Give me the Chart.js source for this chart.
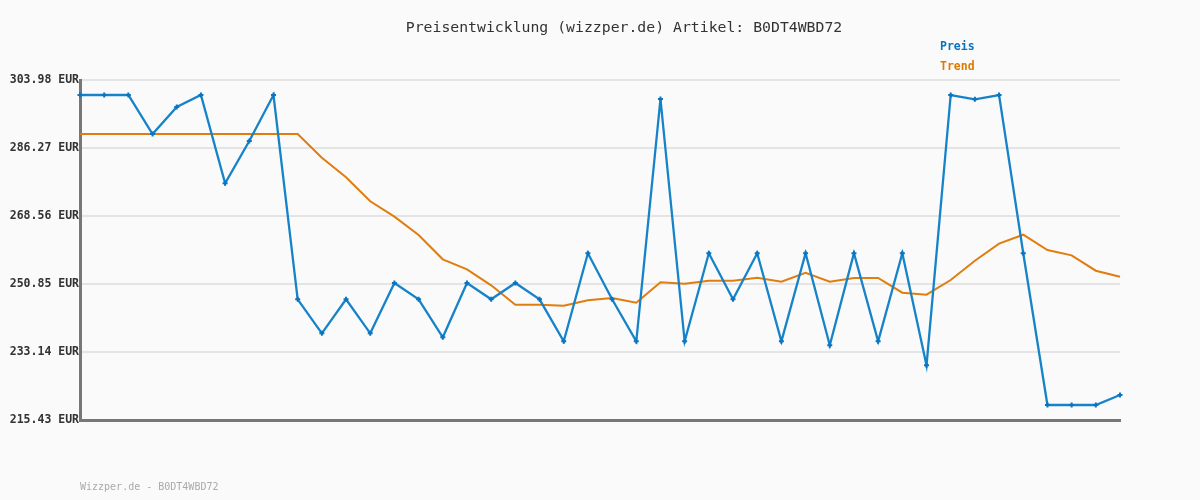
<!DOCTYPE html>
<html>
<head>
<meta charset="utf-8">
<script src="https://cdn.jsdelivr.net/npm/chart.js@4.4.1/dist/chart.umd.min.js"></script>
<style>
  html, body { margin: 0; padding: 0; background: #fafafa; }
  #wrap { width: 1200px; height: 500px; position: relative; }
</style>
</head>
<body>
<div id="wrap"><canvas id="priceChart" width="1200" height="500"></canvas></div>
<script>
// Chart data
const labels = Array(44).fill('');
const preis = [
  300.07, 300.07, 300.07, 289.92, 296.95, 300.07, 277.08, 288.09, 300.07, 246.86,
  238.01, 246.86, 238.01, 251.11, 246.86, 236.97, 251.11, 246.86, 251.11, 246.86,
  235.93, 258.85, 246.86, 235.93, 299.03, 235.93, 258.85, 246.86, 258.85, 235.93,
  258.85, 234.88, 258.85, 235.93, 258.85, 229.67, 300.07, 298.95, 300.07, 258.85,
  219.34, 219.34, 219.34, 221.94
];
const trend = [
  289.92, 289.92, 289.92, 289.92, 289.92, 289.92, 289.92, 289.92, 289.92, 289.92,
  283.74, 278.63, 272.38, 268.40, 263.61, 257.28, 254.68, 250.51, 245.46, 245.46,
  245.20, 246.60, 247.20, 245.98, 251.29, 250.93, 251.71, 251.71, 252.49, 251.45,
  253.79, 251.45, 252.41, 252.41, 248.58, 248.06, 251.89, 256.92, 261.35, 263.69,
  259.71, 258.32, 254.31, 252.75
];
const yTicks = [215.43, 233.14, 250.85, 268.56, 286.27, 303.98];

const chartTitle = 'Preisentwicklung (wizzper.de) Artikel: B0DT4WBD72';
const footerText = 'Wizzper.de - B0DT4WBD72';
const blue = '#1683c9';
const orange = '#e07d0e';

// draws title, legend and footer text
const textPlugin = {
    id: 'textPlugin',
    afterDraw(chart) {
        const ctx = chart.ctx;
        ctx.save();
        ctx.textBaseline = 'middle';
        ctx.font = '14.8px "DejaVu Sans Mono", monospace';
        ctx.fillStyle = '#333';
        ctx.textAlign = 'center';
        ctx.fillText(chartTitle, 624, 28);

        ctx.textAlign = 'left';
        ctx.font = 'bold 11.5px "DejaVu Sans Mono", monospace';
        ctx.fillStyle = '#0a74c0';
        ctx.fillText('Preis', 940, 47);
        ctx.fillStyle = '#df7a00';
        ctx.fillText('Trend', 940, 67);

        ctx.font = '10px "DejaVu Sans Mono", monospace';
        ctx.fillStyle = '#aaa';
        ctx.fillText(footerText, 80, 487);
        ctx.restore();
    }
};

new Chart(document.getElementById('priceChart'), {
    type: 'line',
    data: {
        labels: labels,
        datasets: [
            {
                label: 'Trend',
                data: trend,
                borderColor: orange,
                borderWidth: 2,
                pointRadius: 0,
                tension: 0,
                order: 2
            },
            {
                label: 'Preis',
                data: preis,
                borderColor: blue,
                backgroundColor: '#0a74c0',
                borderWidth: 2.3,
                pointStyle: 'cross',
                pointRadius: 2.5,
                pointBorderColor: '#0a74c0',
                pointBorderWidth: 2,
                tension: 0,
                order: 1
            }
        ]
    },
    options: {
        responsive: false,
        animation: false,
        layout: { padding: { left: 0, right: 80, top: 80, bottom: 80 } },
        plugins: {
            legend: { display: false },
            title: { display: false },
            tooltip: { enabled: false }
        },
        scales: {
            x: {
                offset: false,
                grid: { display: false, drawTicks: false },
                border: { display: true, color: '#777', width: 3 },
                ticks: { display: false }
            },
            y: {
                min: 215.43,
                max: 303.98,
                afterBuildTicks: (axis) => {
                    axis.ticks = yTicks.map(v => ({ value: v }));
                },
                afterFit: (axis) => { axis.width = 80; },
                grid: { color: '#e4e4e4', lineWidth: 2, drawTicks: false },
                border: { display: true, color: '#777', width: 3 },
                ticks: {
                    padding: 1,
                    color: '#333',
                    font: { family: '"DejaVu Sans Mono", monospace', size: 11.5, weight: 'bold' },
                    callback: (v) => Number(v).toFixed(2) + ' EUR'
                }
            }
        }
    },
    plugins: [textPlugin]
});
</script>
</body>
</html>
